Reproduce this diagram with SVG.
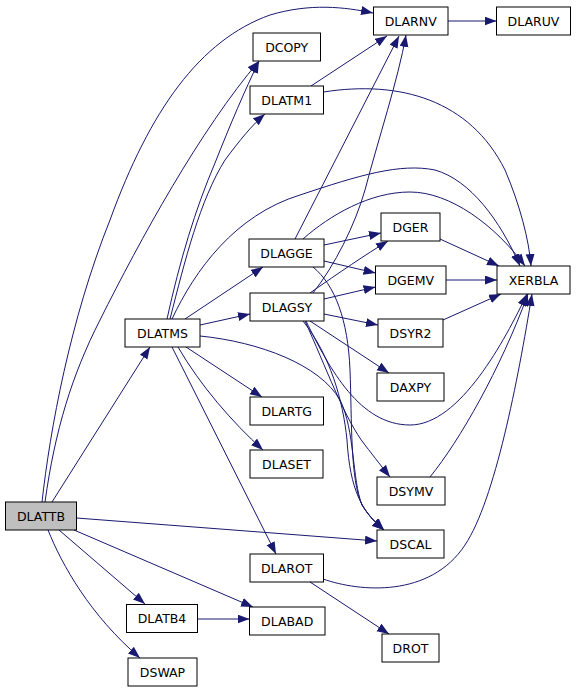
<svg xmlns="http://www.w3.org/2000/svg" width="576" height="692" viewBox="0 0 576 692">
<style>
.node rect{fill:#fff;stroke:#000;stroke-width:1}
.node text{font-family:"DejaVu Sans","Liberation Sans",sans-serif;font-size:12.5px;text-anchor:middle;fill:#000}
.edges path{fill:none;stroke:#191970;stroke-width:1;marker-end:url(#ah)}
</style>
<defs>
<marker id="ah" markerUnits="userSpaceOnUse" markerWidth="13" markerHeight="10" refX="12" refY="4.5" orient="auto">
<path d="M0,0 L12,4.5 L0,9 z" fill="#191970"/>
</marker>
</defs>
<rect width="576" height="692" fill="#fff"/>
<g class="edges" id="edges">
<path d="M42,502 C50,430 70,320 110,220 C150,110 200,40 270,15 C310,3 345,7 373,13"/>
<path d="M45,502 C55,430 72,375 100,320 C140,240 200,130 259,61"/>
<path d="M52,502 L150,347"/>
<path d="M76.5,518 L377,541"/>
<path d="M59,530 L145,604"/>
<path d="M74,530 L253,607"/>
<path d="M48,530 C62,565 90,615 140,658"/>
<path d="M167,319 C180,260 195,210 215,163 C230,125 245,90 259,61"/>
<path d="M170,319 C185,260 200,200 225,160 C240,140 252,125 265,114"/>
<path d="M172,319 C195,270 235,215 300,195 C360,175 400,163 435,170 C470,180 500,220 520,266"/>
<path d="M185,319 L263,267"/>
<path d="M200,325 L250,314"/>
<path d="M186,347 L262,397"/>
<path d="M178,347 C200,385 232,422 263,450"/>
<path d="M172,347 L276,554"/>
<path d="M200,336 C260,342 320,365 340,400 C355,430 352,480 362,505 C370,518 377,524 384,530"/>
<path d="M311,86 L387,36"/>
<path d="M323.5,92 C400,80 470,100 505,170 C520,205 529,240 531,266"/>
<path d="M295,239 L399,36"/>
<path d="M303,239 C330,215 370,192 410,192 C450,192 495,225 525,266"/>
<path d="M324,245 L381,233"/>
<path d="M324,261 L375.5,273"/>
<path d="M313,267 C335,285 348,320 350,370 C352,420 350,480 362,505 C370,518 378,524 384,530"/>
<path d="M313,293 C335,265 355,225 365,190 C378,140 398,80 406,35"/>
<path d="M310,293 C340,272 365,255 388,241"/>
<path d="M324,299 L375.5,287"/>
<path d="M324,314 L378,325"/>
<path d="M310,321 L389,373"/>
<path d="M306,321 C330,370 360,425 410,425 C460,425 505,340 527,294"/>
<path d="M305,321 C325,365 345,420 365,445 C375,458 382,467 390,477"/>
<path d="M303,321 C330,355 343,400 347,440 C350,490 362,512 384,530"/>
<path d="M440,239 L499,266"/>
<path d="M446,280 L497,280"/>
<path d="M443,320 L501,294"/>
<path d="M430,477 C460,440 500,370 528,294"/>
<path d="M323,579 C360,592 430,598 465,545 C495,500 518,380 532,294"/>
<path d="M310,582 L389,634"/>
<path d="M197.5,619 L249.5,619"/>
<path d="M448,21 L496.5,21"/>
</g>
<g class="node" id="DLATTB"><rect x="5.5" y="502" width="71" height="28" style="fill:#bfbfbf"/><text x="41" y="520.5">DLATTB</text></g>
<g class="node" id="DLATMS"><rect x="125" y="319" width="75" height="28"/><text x="162.5" y="337.5">DLATMS</text></g>
<g class="node" id="DLATB4"><rect x="126.5" y="604.5" width="71" height="28"/><text x="162" y="623">DLATB4</text></g>
<g class="node" id="DSWAP"><rect x="128" y="658" width="69" height="28"/><text x="162.5" y="676.5">DSWAP</text></g>
<g class="node" id="DCOPY"><rect x="253" y="33" width="67.5" height="28"/><text x="286.7" y="51.5">DCOPY</text></g>
<g class="node" id="DLATM1"><rect x="250" y="86" width="73.5" height="28"/><text x="286.7" y="104.5">DLATM1</text></g>
<g class="node" id="DLAGGE"><rect x="249" y="239" width="75" height="28"/><text x="286.5" y="257.5">DLAGGE</text></g>
<g class="node" id="DLAGSY"><rect x="250" y="293" width="74" height="28"/><text x="287" y="311.5">DLAGSY</text></g>
<g class="node" id="DLARTG"><rect x="250" y="397" width="73.5" height="28"/><text x="286.7" y="415.5">DLARTG</text></g>
<g class="node" id="DLASET"><rect x="250" y="450" width="73" height="28"/><text x="286.5" y="468.5">DLASET</text></g>
<g class="node" id="DLAROT"><rect x="250" y="554" width="73.5" height="28"/><text x="286.7" y="572.5">DLAROT</text></g>
<g class="node" id="DLABAD"><rect x="249.5" y="607" width="75.5" height="28"/><text x="287.2" y="625.5">DLABAD</text></g>
<g class="node" id="DLARNV"><rect x="373.5" y="7" width="74.5" height="28"/><text x="410.7" y="25.5">DLARNV</text></g>
<g class="node" id="DLARUV"><rect x="496.5" y="7" width="74" height="28"/><text x="533.5" y="25.5">DLARUV</text></g>
<g class="node" id="DGER"><rect x="381" y="213" width="59" height="28"/><text x="410.5" y="231.5">DGER</text></g>
<g class="node" id="DGEMV"><rect x="375.5" y="266" width="70.5" height="28"/><text x="410.7" y="284.5">DGEMV</text></g>
<g class="node" id="XERBLA"><rect x="497" y="266" width="73" height="28"/><text x="533.5" y="284.5">XERBLA</text></g>
<g class="node" id="DSYR2"><rect x="378" y="319" width="65" height="28"/><text x="410.5" y="337.5">DSYR2</text></g>
<g class="node" id="DAXPY"><rect x="377" y="373" width="67" height="28"/><text x="410.5" y="391.5">DAXPY</text></g>
<g class="node" id="DSYMV"><rect x="377" y="477" width="68" height="28"/><text x="411" y="495.5">DSYMV</text></g>
<g class="node" id="DSCAL"><rect x="377" y="530" width="67" height="28"/><text x="410.5" y="548.5">DSCAL</text></g>
<g class="node" id="DROT"><rect x="382" y="634" width="57" height="28"/><text x="410.5" y="652.5">DROT</text></g>
</svg>
